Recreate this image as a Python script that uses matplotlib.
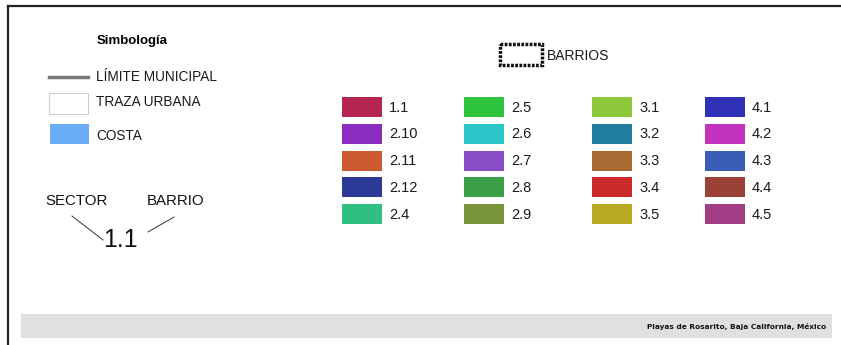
import matplotlib.pyplot as plt
from matplotlib.patches import Rectangle

plt.rcParams['font.family'] = ['Liberation Sans', 'DejaVu Sans']

# legend data
simb_labels = ['LÍMITE MUNICIPAL', 'TRAZA URBANA', 'COSTA']
costa_color = '#6aacf6'

barrio_cols = [
    ['1.1', '2.10', '2.11', '2.12', '2.4'],
    ['2.5', '2.6', '2.7', '2.8', '2.9'],
    ['3.1', '3.2', '3.3', '3.4', '3.5'],
    ['4.1', '4.2', '4.3', '4.4', '4.5'],
]
barrio_colors = [
    ['#b4264f', '#8a2cc0', '#cb5a30', '#2e3a98', '#2fbf80'],
    ['#2ec43e', '#2ac5c6', '#8a4cc4', '#3a9f47', '#7a963a'],
    ['#8dc83a', '#217e9e', '#a86a32', '#cb2a2a', '#b8aa22'],
    ['#3232b8', '#c234c0', '#3a5eb8', '#9a4238', '#a23e86'],
]
footer = 'Playas de Rosarito, Baja California, México'

fig = plt.figure(figsize=(8.41, 3.45), dpi=100)
ax = fig.add_axes([0, 0, 1, 1])
ax.set_xlim(0, 841)
ax.set_ylim(345, 0)
ax.axis('off')

# frame
ax.plot([8, 841], [6, 6], color='#222222', lw=1.6)
ax.plot([8, 8], [6, 345], color='#222222', lw=1.6)

# symbology block
ax.text(97, 41, 'Simbología', fontsize=9.5, fontweight='bold', va='center')
ax.plot([49, 88], [77, 77], color='#777777', lw=2.5)
ax.add_patch(Rectangle((49, 93), 39, 21, facecolor='white', edgecolor='#cccccc', lw=0.8))
ax.add_patch(Rectangle((50, 124), 39, 20, facecolor=costa_color, edgecolor='none'))
for lab, y in zip(simb_labels, [77, 102, 136]):
    ax.text(96, y, lab, fontsize=9.8, va='center', color='#1a1a1a')

# sector / barrio explanation
ax.text(45, 201, 'SECTOR', fontsize=10.8, va='center', color='#111111')
ax.text(147, 201, 'BARRIO', fontsize=10.8, va='center', color='#111111')
ax.text(103, 240, '1.1', fontsize=18, va='center', color='#111111')
ax.plot([72, 103], [216, 240], color='#333333', lw=0.7)
ax.plot([148, 174], [232, 217], color='#333333', lw=0.7)

# barrios header
ax.add_patch(Rectangle((500, 44), 42, 21, facecolor='none', edgecolor='#111111',
                       lw=2.5, linestyle=(0, (0.8, 0.4))))
ax.text(547, 56, 'BARRIOS', fontsize=10, va='center', color='#1a1a1a')

# colour swatches
col_x = [342, 464, 592, 705]
for i, (labs, cols) in enumerate(zip(barrio_cols, barrio_colors)):
    for j, (lab, c) in enumerate(zip(labs, cols)):
        y = 97 + j * 26.8
        ax.add_patch(Rectangle((col_x[i], y), 40, 20, facecolor=c, edgecolor='none'))
        ax.text(col_x[i] + 47, y + 10.5, lab, fontsize=10.5, va='center', color='#1a1a1a')

# footer bar
ax.add_patch(Rectangle((21, 314), 811, 24, facecolor='#e0e0e0', edgecolor='none'))
ax.text(826, 326, footer, fontsize=5.3, fontweight='bold', ha='right', va='center',
        family='DejaVu Sans', color='#111111')

fig.savefig('out.png', dpi=100)
